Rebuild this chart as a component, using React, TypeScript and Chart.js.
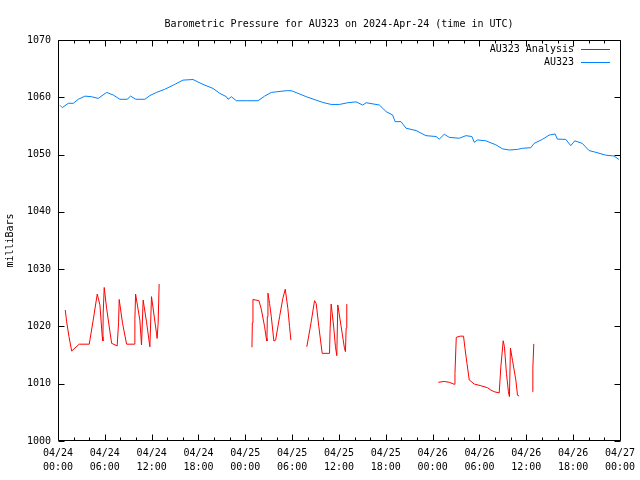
import React, { useEffect, useRef } from 'react';
import { Chart, registerables } from 'chart.js';

Chart.register(...registerables);

const TITLE = 'Barometric Pressure for AU323 on 2024-Apr-24 (time in UTC)';
const Y_TITLE = 'milliBars';
const FONT = "'DejaVu Sans Mono', monospace";

// Hours since 2024-04-24 00:00 UTC
const X_MIN = 0;
const X_MAX = 72;
const X_MAJOR_STEP = 6;
const X_MINOR_STEP = 2;
const START_DAY = 24;
const MONTH = '04';

const Y_MIN = 1000;
const Y_MAX = 1070;
const Y_STEP = 10;

const stationName = 'AU323';
const analysisName = 'AU323 Analysis';
const stationColor = 'rgb(0,128,255)';
const analysisColor = 'rgb(255,0,0)';

const stationHours = [
  0.26, 0.55, 1.32, 1.96, 2.6, 3.45, 4.31, 5.15, 6.23, 7.07, 7.93, 8.86, 9.3, 9.98,
  11.13, 11.77, 12.62, 13.68, 14.96, 16.02, 17.3, 18.58, 19.86, 20.72, 21.57, 21.78,
  22.21, 22.85, 24.13, 25.62, 26.47, 27.33, 27.97, 29.25, 29.89, 30.73, 31.81, 33.08,
  33.93, 35.0, 36.06, 37.13, 38.2, 39.04, 39.48, 41.18, 42.04, 42.88, 43.19, 43.95,
  44.59, 45.87, 47.15, 48.43, 48.85, 49.49, 50.13, 51.41, 52.27, 53.03, 53.33, 53.75,
  54.82, 56.1, 56.95, 57.81, 58.87, 59.51, 60.58, 61.0, 62.06, 62.92, 63.69, 63.98,
  65.06, 65.7, 66.21, 67.18, 68.04, 68.89, 70.17, 71.23, 71.87,
];
const stationPressure = [
  1058.6, 1058.2, 1058.95, 1058.95, 1059.65, 1060.2, 1060.1, 1059.8, 1060.85, 1060.4,
  1059.65, 1059.65, 1060.2, 1059.65, 1059.65, 1060.3, 1060.85, 1061.4, 1062.25, 1063.0,
  1063.1, 1062.25, 1061.55, 1060.7, 1060.1, 1059.65, 1060.1, 1059.4, 1059.4, 1059.4,
  1060.2, 1060.85, 1060.95, 1061.15, 1061.15, 1060.7, 1060.1, 1059.5, 1059.1, 1058.75,
  1058.75, 1059.05, 1059.2, 1058.65, 1059.05, 1058.65, 1057.5, 1056.9, 1055.75, 1055.75,
  1054.6, 1054.2, 1053.3, 1053.15, 1052.7, 1053.55, 1053.0, 1052.85, 1053.3, 1053.15,
  1052.15, 1052.55, 1052.4, 1051.7, 1051.0, 1050.8, 1050.9, 1051.1, 1051.2, 1051.95,
  1052.65, 1053.4, 1053.6, 1052.7, 1052.65, 1051.55, 1052.4, 1051.95, 1050.7, 1050.4,
  1049.9, 1049.75, 1049.15,
];

// null pressure = gap in the analysis series
const analysisHours = [
  0.93, 1.11, 1.41, 1.75, 2.72, 4.0, 4.51, 5.03, 5.37, 5.67, 5.75, 5.79, 5.92, 6.23,
  6.87, 7.58, 7.76, 7.84, 8.27, 8.79, 9.81, 9.85, 9.94, 10.49, 10.7, 10.91, 11.34,
  11.77, 11.98, 12.62, 12.7, 12.83, 12.96,
  18.9,
  24.85, 24.9, 24.98, 25.74, 26.05, 26.47, 26.69, 26.77, 26.82, 26.9, 27.11, 27.33,
  27.66, 27.88, 28.39, 28.81, 29.12, 29.45, 29.67, 29.84,
  30.9,
  31.88, 32.44, 32.87, 33.08, 33.42, 33.85, 34.79, 34.87, 35.0, 35.3, 35.55, 35.72,
  35.85, 36.28, 36.7, 36.83, 36.92, 37.0,
  42.9,
  48.73, 49.49, 50.13, 50.77, 50.86, 51.03, 51.54, 51.96, 52.14, 52.4, 52.69, 53.33,
  54.18, 55.03, 55.46, 55.89, 56.53, 56.74, 57.04, 57.2, 57.46, 57.71, 57.84, 57.97,
  58.23, 58.66, 58.87, 59.08,
  59.9,
  60.79, 60.84, 60.96,
];
const analysisPressure: (number | null)[] = [
  1022.87, 1020.8, 1018.2, 1015.7, 1016.9, 1016.9, 1021.1, 1025.65, 1023.75, 1018.2,
  1017.45, 1022.3, 1026.8, 1023.15, 1017.05, 1016.6, 1020.65, 1024.7, 1020.55, 1016.9,
  1016.9, 1021.25, 1025.65, 1021.1, 1016.75, 1024.6, 1020.8, 1016.45, 1025.2, 1018.8,
  1017.9, 1020.55, 1027.4,
  null,
  1016.35, 1020.65, 1024.7, 1024.5, 1023.0, 1019.95, 1017.9, 1017.45, 1021.7, 1025.8,
  1024.0, 1021.7, 1017.45, 1017.6, 1021.7, 1024.9, 1026.5, 1023.15, 1019.95, 1017.6,
  null,
  1016.45, 1020.8, 1024.5, 1024.0, 1019.95, 1015.3, 1015.3, 1019.7, 1023.9, 1020.25,
  1016.45, 1014.9, 1023.75, 1019.95, 1016.2, 1015.6, 1019.7, 1023.9,
  null,
  1010.25, 1010.4, 1010.25, 1009.9, 1011.8, 1018.1, 1018.3, 1018.3, 1016.2, 1013.55,
  1010.65, 1009.95, 1009.65, 1009.3, 1008.9, 1008.6, 1008.4, 1012.95, 1017.5, 1016.45,
  1011.8, 1008.6, 1007.75, 1016.2, 1014.1, 1010.65, 1008.0, 1007.85,
  null,
  1008.6, 1012.7, 1016.95,
];

function tickLabel(v: number): string[] {
  const day = START_DAY + Math.floor(v / 24);
  const hour = v % 24;
  return [`${MONTH}/${day}`, `${String(hour).padStart(2, '0')}:00`];
}

const framePlugin = {
  id: 'gnuFrame',
  afterDraw(chart: any) {
    const { ctx, chartArea: a, scales } = chart;
    const xs = scales.x;
    const ys = scales.y;
    const L = Math.round(a.left) + 0.5;
    const R = Math.round(a.right) + 0.5;
    const T = Math.round(a.top) + 0.5;
    const B = Math.round(a.bottom) - 0.5;
    ctx.save();
    ctx.strokeStyle = '#000';
    ctx.lineWidth = 1;
    ctx.beginPath();
    ctx.rect(L, T, R - L, B - T);
    // x ticks (inward, top and bottom)
    for (let h = X_MIN; h <= X_MAX; h += X_MINOR_STEP) {
      const px = Math.round(xs.getPixelForValue(h)) + 0.5;
      const len = h % X_MAJOR_STEP === 0 ? 6 : 3;
      ctx.moveTo(px, B);
      ctx.lineTo(px, B - len);
      ctx.moveTo(px, T);
      ctx.lineTo(px, T + len);
    }
    // y ticks (inward, left and right)
    for (let v = Y_MIN; v <= Y_MAX; v += Y_STEP) {
      const py = Math.round(ys.getPixelForValue(v)) + 0.5;
      ctx.moveTo(L, py);
      ctx.lineTo(L + 6, py);
      ctx.moveTo(R, py);
      ctx.lineTo(R - 6, py);
    }
    ctx.stroke();

    // title
    ctx.fillStyle = '#000';
    ctx.font = `10px ${FONT}`;
    ctx.textAlign = 'center';
    ctx.textBaseline = 'middle';
    ctx.fillText(TITLE, (a.left + a.right) / 2, 24);

    // legend (text right-aligned, sample line to its right)
    const items = [
      { label: analysisName, color: analysisColor },
      { label: stationName, color: stationColor },
    ];
    items.forEach((it, i) => {
      const yy = 49 + i * 13;
      ctx.fillStyle = '#000';
      ctx.textAlign = 'right';
      ctx.fillText(it.label, 574, yy);
      ctx.strokeStyle = it.color;
      ctx.beginPath();
      ctx.moveTo(581, Math.round(yy) + 0.5);
      ctx.lineTo(610, Math.round(yy) + 0.5);
      ctx.stroke();
    });
    ctx.restore();
  },
};

export default function App() {
  const ref = useRef<HTMLCanvasElement | null>(null);

  useEffect(() => {
    if (!ref.current) return;
    Chart.defaults.font.family = FONT;
    Chart.defaults.font.size = 10;
    Chart.defaults.color = '#000';

    const stationData = stationHours.map((h, i) => ({ x: h, y: stationPressure[i] }));
    const analysisData = analysisHours.map((h, i) => ({ x: h, y: analysisPressure[i] }));

    const chart = new Chart(ref.current, {
      type: 'line',
      data: {
        datasets: [
          {
            label: analysisName,
            data: analysisData as any,
            borderColor: analysisColor,
            borderWidth: 1,
            pointRadius: 0,
            tension: 0,
            spanGaps: false,
            fill: false,
          },
          {
            label: stationName,
            data: stationData,
            borderColor: stationColor,
            borderWidth: 1,
            pointRadius: 0,
            tension: 0,
            fill: false,
          },
        ],
      },
      options: {
        responsive: false,
        animation: false,
        events: [],
        layout: { padding: { top: 40, right: 19, left: 0, bottom: 0 } },
        plugins: {
          legend: { display: false },
          title: { display: false },
          tooltip: { enabled: false },
        },
        scales: {
          x: {
            type: 'linear',
            min: X_MIN,
            max: X_MAX,
            grid: { display: false, drawTicks: false },
            border: { display: false },
            ticks: {
              stepSize: X_MAJOR_STEP,
              autoSkip: false,
              maxRotation: 0,
              minRotation: 0,
              padding: 5,
              font: { family: FONT, size: 10, lineHeight: 1.4 },
              color: '#000',
              callback: (v: any) => tickLabel(Number(v)),
            },
            afterFit: (s: any) => {
              s.height = 39;
            },
          },
          y: {
            type: 'linear',
            min: Y_MIN,
            max: Y_MAX,
            grid: { display: false, drawTicks: false },
            border: { display: false },
            ticks: {
              stepSize: Y_STEP,
              padding: 7,
              font: { family: FONT, size: 10 },
              color: '#000',
              callback: (v: any) => String(v),
            },
            title: {
              display: true,
              text: Y_TITLE,
              font: { family: FONT, size: 10 },
              color: '#000',
              padding: { top: 4, bottom: 0 },
            },
            afterFit: (s: any) => {
              s.width = 58;
            },
          },
        },
      },
      plugins: [framePlugin],
    });
    return () => chart.destroy();
  }, []);

  return (
    <div style={{ position: 'absolute', left: 0, top: 0, width: 640, height: 480, background: '#fff' }}>
      <canvas ref={ref} width={640} height={480} style={{ display: 'block' }} />
    </div>
  );
}
